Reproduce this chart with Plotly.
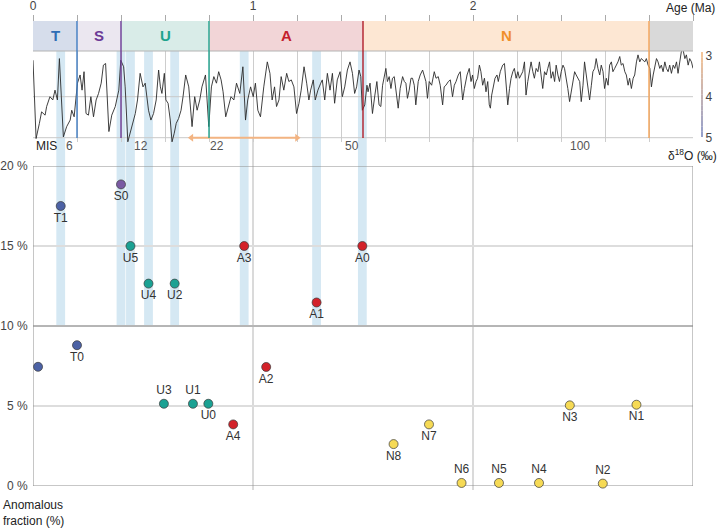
import plotly.graph_objects as go

# ---------------- δ18O stack ----------------
d18o_age = [0.000, 0.014, 0.029, 0.039, 0.055, 0.062, 0.077, 0.090, 0.100, 0.111, 0.120, 0.138, 0.153, 0.169, 0.176, 0.187,
            0.202, 0.214, 0.223, 0.232, 0.241, 0.252, 0.263, 0.275, 0.287, 0.298, 0.310, 0.320, 0.330, 0.336, 0.345, 0.358,
            0.374, 0.390, 0.399, 0.412, 0.419, 0.431, 0.450, 0.465, 0.475, 0.487, 0.500, 0.510, 0.525, 0.536, 0.548, 0.560,
            0.571, 0.579, 0.586, 0.597, 0.604, 0.614, 0.624, 0.632, 0.642, 0.651, 0.662, 0.673, 0.682, 0.694, 0.708, 0.723,
            0.735, 0.746, 0.758, 0.768, 0.784, 0.799, 0.811, 0.822, 0.834, 0.844, 0.855, 0.864, 0.876, 0.890, 0.900, 0.913,
            0.925, 0.940, 0.954, 0.966, 0.976, 0.989, 1.001, 1.011, 1.022, 1.034, 1.049, 1.065, 1.077, 1.087, 1.098, 1.107,
            1.118, 1.128, 1.140, 1.153, 1.163, 1.174, 1.186, 1.198, 1.209, 1.219, 1.232, 1.244, 1.254, 1.262, 1.274, 1.283,
            1.295, 1.308, 1.315, 1.326, 1.338, 1.350, 1.361, 1.371, 1.383, 1.396, 1.406, 1.417, 1.429, 1.441, 1.452, 1.462,
            1.471, 1.482, 1.490, 1.497, 1.508, 1.518, 1.523, 1.532, 1.543, 1.554, 1.563, 1.573, 1.581, 1.589, 1.596, 1.604,
            1.611, 1.619, 1.627, 1.634, 1.642, 1.654, 1.660, 1.669, 1.680, 1.688, 1.695, 1.702, 1.710, 1.718, 1.725, 1.733,
            1.740, 1.751, 1.760, 1.771, 1.778, 1.786, 1.793, 1.801, 1.812, 1.824, 1.832, 1.842, 1.851, 1.862, 1.869, 1.877,
            1.888, 1.897, 1.907, 1.915, 1.923, 1.933, 1.942, 1.953, 1.961, 1.973, 1.983, 1.991, 1.998, 2.006, 2.014, 2.021,
            2.029, 2.036, 2.044, 2.052, 2.059, 2.067, 2.074, 2.079, 2.085, 2.094, 2.100, 2.109, 2.115, 2.124, 2.135, 2.143,
            2.151, 2.158, 2.166, 2.173, 2.181, 2.188, 2.196, 2.204, 2.211, 2.219, 2.226, 2.234, 2.241, 2.249, 2.257, 2.264,
            2.272, 2.279, 2.287, 2.295, 2.302, 2.310, 2.317, 2.325, 2.333, 2.340, 2.348, 2.355, 2.363, 2.371, 2.378, 2.386,
            2.393, 2.401, 2.409, 2.416, 2.424, 2.431, 2.439, 2.447, 2.454, 2.462, 2.469, 2.477, 2.485, 2.492, 2.500, 2.507,
            2.515, 2.522, 2.530, 2.538, 2.545, 2.553, 2.560, 2.568, 2.576, 2.583, 2.591, 2.598, 2.606, 2.614, 2.621, 2.629,
            2.636, 2.644, 2.652, 2.659, 2.667, 2.674, 2.682, 2.690, 2.697, 2.705, 2.712, 2.720, 2.728, 2.735, 2.743, 2.750,
            2.758, 2.765, 2.773, 2.781, 2.788, 2.796, 2.804, 2.811, 2.819, 2.826, 2.834, 2.841, 2.849, 2.856, 2.864, 2.872,
            2.879, 2.887, 2.894, 2.902, 2.910, 2.917, 2.925, 2.932, 2.940, 2.947, 2.955, 2.963, 2.970, 2.978, 2.985, 2.993,
            3.000]
d18o_val = [3.11, 5.02, 4.65, 4.37, 4.45, 4.24, 4.00, 4.08, 3.84, 4.08, 3.07, 4.98, 4.73, 4.57, 4.33, 4.49,
            3.67, 3.47, 3.84, 3.39, 4.41, 4.45, 4.00, 4.49, 4.08, 3.92, 3.67, 3.23, 3.19, 3.84, 4.85, 4.45,
            4.24, 3.84, 3.11, 3.27, 3.76, 5.10, 4.73, 4.41, 4.08, 3.43, 3.76, 3.67, 4.33, 4.57, 4.41, 4.08,
            3.35, 3.76, 3.92, 3.43, 4.08, 4.16, 4.57, 5.10, 4.89, 4.65, 4.53, 4.33, 4.00, 3.47, 3.76, 4.73,
            4.00, 4.33, 4.08, 3.76, 3.47, 4.73, 3.76, 3.51, 3.67, 3.39, 3.59, 3.88, 4.49, 4.24, 4.00, 4.08,
            3.67, 3.92, 3.27, 4.57, 4.08, 3.76, 4.00, 3.67, 4.33, 4.49, 3.76, 3.15, 3.43, 4.08, 3.76, 4.24,
            4.08, 3.51, 3.84, 3.43, 3.63, 3.59, 3.76, 4.41, 4.16, 3.84, 3.27, 3.67, 4.08, 3.84, 3.59, 4.08,
            3.84, 3.67, 3.59, 4.08, 3.43, 3.84, 3.43, 4.16, 3.59, 3.39, 4.00, 3.76, 3.35, 3.15, 3.43, 3.92,
            3.76, 3.35, 3.51, 4.33, 4.20, 3.72, 3.88, 3.67, 4.41, 3.96, 3.63, 4.20, 4.24, 3.72, 3.55, 3.31,
            3.63, 3.51, 3.80, 3.55, 3.51, 4.04, 4.28, 3.80, 3.51, 3.63, 3.67, 4.04, 3.84, 3.55, 3.55, 3.72,
            4.20, 3.63, 3.47, 3.35, 3.51, 3.63, 4.04, 3.63, 3.72, 3.39, 3.55, 3.51, 3.72, 4.20, 3.76, 3.72,
            3.63, 3.59, 4.00, 3.72, 3.63, 3.47, 3.39, 4.08, 3.80, 3.47, 3.31, 3.63, 3.47, 3.80, 3.63, 3.55,
            3.23, 3.39, 3.72, 3.55, 3.88, 3.63, 4.20, 4.28, 3.96, 3.72, 3.55, 3.47, 3.63, 3.39, 3.23, 3.19,
            3.72, 4.20, 3.80, 3.55, 3.39, 3.31, 3.55, 3.39, 3.55, 3.47, 3.39, 3.15, 3.96, 3.63, 3.39, 3.15,
            3.39, 3.55, 3.31, 3.39, 3.15, 3.55, 3.80, 3.39, 3.47, 3.31, 3.15, 3.55, 3.39, 3.63, 3.23, 3.47,
            3.63, 3.39, 3.23, 3.31, 3.55, 3.80, 4.12, 3.88, 3.63, 3.39, 3.47, 3.55, 3.63, 4.12, 3.72, 3.15,
            3.47, 3.88, 4.08, 3.72, 3.39, 3.31, 3.07, 3.31, 3.47, 3.23, 3.39, 3.80, 3.55, 3.72, 3.23, 3.15,
            3.39, 3.31, 3.23, 3.15, 3.02, 3.23, 3.19, 3.39, 3.47, 3.72, 3.55, 3.80, 3.55, 3.47, 3.15, 2.98,
            3.15, 3.07, 3.11, 3.15, 3.07, 3.23, 3.31, 3.76, 3.47, 3.23, 3.07, 3.15, 3.31, 3.23, 3.39, 3.15,
            3.31, 3.39, 3.23, 3.43, 3.23, 3.31, 3.15, 3.43, 3.07, 2.90, 2.86, 3.07, 2.98, 3.23, 3.07, 3.15,
            3.31]

# ---------------- anomalous fraction per interval ----------------
T_age = [0.023, 0.126, 0.200]
T_frac = [7.45, 17.5, 8.8]
T_lab = ["", "T1", "T0"]
S_age = [0.400]
S_frac = [18.85]
S_lab = ["S0"]
U_age = [0.443, 0.525, 0.595, 0.644, 0.727, 0.797]
U_frac = [15.0, 12.65, 5.14, 12.65, 5.14, 5.14]
U_lab = ["U5", "U4", "U3", "U2", "U1", "U0"]
A_age = [0.910, 0.960, 1.060, 1.289, 1.497]
A_frac = [3.85, 15.0, 7.44, 11.47, 15.0]
A_lab = ["A4", "A3", "A2", "A1", "A0"]
N_age = [1.639, 1.800, 1.948, 2.118, 2.300, 2.440, 2.590, 2.743]
N_frac = [2.62, 3.85, 0.19, 0.19, 0.19, 5.04, 0.15, 5.08]
N_lab = ["N8", "N7", "N6", "N5", "N4", "N3", "N2", "N1"]
labels_above = {"U3", "U1", "N6", "N5", "N4", "N2"}
band_threshold = 10.0

frac_ticks = [0, 5, 10, 15, 20]
frac_ticktext = ["0 %", "5 %", "10 %", "15 %", "20 %"]
d18o_ticks = [3, 4, 5]

# periods
period_names = ["T", "S", "U", "A", "N", ""]
period_start = [0.0, 0.2, 0.4, 0.8, 1.5, 2.8]
period_end = [0.2, 0.4, 0.8, 1.5, 2.8, 3.0]

# MIS labels
mis_labels = ["6", "12", "22", "50", "100"]
mis_age = [0.164, 0.491, 0.836, 1.45, 2.486]
arrow_span = [0.72, 1.2]
arrow_level = 5.0

# ---------------- styling ----------------
FONT = "Liberation Sans, Arial, Helvetica, sans-serif"
TXT = "#333333"
period_fill = ["#d6ddeb", "#ebe7f0", "#d9ece8", "#f2d5d7", "#fde7d3", "#d9d9d9"]
period_text = ["#2f6db5", "#6b3a96", "#1fa38d", "#c4202c", "#f0902a", "#000000"]
period_line = ["#3f7cc2", "#6b3a96", "#1fa38d", "#b01e2a", "#f4a356"]
group_color = {"T": "#4c62a5", "S": "#7a5aa3", "U": "#1aa193", "A": "#d3222a", "N": "#f6da55"}
ARROW_COL = "#f3b482"

W, H = 720, 528
ML, MR, MT, MB = 33, 27, 21, 42
PW, PH = W - ML - MR, H - MT - MB


def py(p):
    return (H - MB - p) / PH


def pxp(p):
    return (p - ML) / PW


Y_TOP = 20.0
scat_dom = [0.0, py(166)]
d_dom = [py(142), py(51)]

fig = go.Figure()

fig.add_trace(go.Scatter(x=d18o_age, y=d18o_val, xaxis="x2", yaxis="y2", mode="lines",
                         line=dict(color="#2a2a2a", width=0.9), hoverinfo="skip", showlegend=False))

# orange double-headed arrow (MIS 22 - ~1.2 Ma)
fig.add_trace(go.Scatter(x=arrow_span, y=[arrow_level, arrow_level], xaxis="x2", yaxis="y2",
                         mode="lines+markers", line=dict(color=ARROW_COL, width=2),
                         marker=dict(symbol=["triangle-left", "triangle-right"], size=7, color=ARROW_COL,
                                     line=dict(width=0)),
                         cliponaxis=False, hoverinfo="skip", showlegend=False))

groups = [("T", T_age, T_frac, T_lab), ("S", S_age, S_frac, S_lab), ("U", U_age, U_frac, U_lab),
          ("A", A_age, A_frac, A_lab), ("N", N_age, N_frac, N_lab)]
for g, ages, fr, lab in groups:
    lab_x = [a for a, l in zip(ages, lab) if l]
    lab_y = [f for f, l in zip(fr, lab) if l]
    lab_t = [l for l in lab if l]
    nol_x = [a for a, l in zip(ages, lab) if not l]
    nol_y = [f for f, l in zip(fr, lab) if not l]
    mk = dict(size=9, color=group_color[g], line=dict(color="#3a3a3a", width=0.7))
    if nol_x:
        fig.add_trace(go.Scatter(x=nol_x, y=nol_y, mode="markers", marker=mk, cliponaxis=False,
                                 showlegend=False, name=g))
    fig.add_trace(go.Scatter(
        x=lab_x, y=lab_y, mode="markers+text", text=lab_t,
        textposition=["top center" if l in labels_above else "bottom center" for l in lab_t],
        textfont=dict(size=12, color=TXT, family=FONT),
        marker=mk, cliponaxis=False, showlegend=False, name=g))

shapes = []
# blue bands for intervals with fraction >= threshold
band_top = d_dom[1]
band_bot = scat_dom[0] + (scat_dom[1] - scat_dom[0]) * band_threshold / Y_TOP
for g, ages, fr, lab in groups:
    for a, f in zip(ages, fr):
        if f >= band_threshold:
            shapes.append(dict(type="rect", xref="x2", yref="paper", x0=a - 0.02, x1=a + 0.02,
                               y0=band_bot, y1=band_top, fillcolor="#d5e8f3", line=dict(width=0),
                               layer="below"))
# header period boxes
for s, e, c in zip(period_start, period_end, period_fill):
    shapes.append(dict(type="rect", xref="x2", yref="paper", x0=s, x1=e, y0=py(51), y1=1.0,
                       fillcolor=c, line=dict(width=0), layer="below"))
shapes.append(dict(type="line", xref="x2", yref="paper", x0=0, x1=3.0, y0=py(51), y1=py(51),
                   line=dict(color="#b3b3b3", width=1)))
# δ18O gridlines
for v in [4, 5]:
    shapes.append(dict(type="line", xref="x2", yref="y2", x0=0, x1=3.0, y0=v, y1=v,
                       line=dict(color="#c9c9c9", width=1), layer="between"))
# period boundary lines
for e, c in zip(period_end[:-1], period_line):
    shapes.append(dict(type="line", xref="x2", yref="paper", x0=e, x1=e, y0=py(138), y1=1.0,
                       line=dict(color=c, width=1.4), layer="above"))
# vertical lines at whole Ma through scatter panel
for v in [1, 2]:
    shapes.append(dict(type="line", xref="x", yref="paper", x0=v, x1=v, y0=py(490), y1=py(138),
                       line=dict(color="#b5b5b5", width=1), layer="below"))
# scatter frame lines
for v in [0, 10, 20]:
    shapes.append(dict(type="line", xref="x", yref="y", x0=0, x1=3.0, y0=v, y1=v,
                       line=dict(color="#8e8e8e", width=1), layer="between"))
for v in [0, 3.0]:
    shapes.append(dict(type="line", xref="x", yref="y", x0=v, x1=v, y0=0, y1=Y_TOP,
                       line=dict(color="#8e8e8e", width=1), layer="between"))
# gradient δ18O scale bar
orange = (244, 168, 96)
blue = (90, 108, 178)
nseg = 16
top_p, bot_p = 52, 137
for i in range(nseg):
    t = (i + 0.5) / nseg
    col = "rgb(%d,%d,%d)" % tuple(int(orange[k] + (blue[k] - orange[k]) * t) for k in range(3))
    y0p = top_p + (bot_p - top_p) * i / nseg
    y1p = top_p + (bot_p - top_p) * (i + 1) / nseg
    shapes.append(dict(type="line", xref="paper", yref="paper", x0=pxp(702), x1=pxp(702),
                       y0=py(y0p), y1=py(y1p), line=dict(color=col, width=1.3)))


def note(x, y, text, xref="paper", yref="paper", xanchor="center", size=12, color="#222", **kw):
    return dict(x=x, y=y, xref=xref, yref=yref, text=text, xanchor=xanchor, yanchor="middle",
                showarrow=False, font=dict(size=size, color=color, family=FONT), **kw)


annotations = []
for n, s, e, c in zip(period_names, period_start, period_end, period_text):
    if n:
        annotations.append(note((s + e) / 2, py(36), "<b>%s</b>" % n, xref="x2", size=15, color=c))
annotations.append(note(0.005, py(146), "MIS", xref="x2", xanchor="left"))
for l, a in zip(mis_labels, mis_age):
    annotations.append(note(a, py(146), l, xref="x2", color="#555"))
annotations.append(note(pxp(717), py(8), "Age (Ma)", xanchor="right"))
annotations.append(note(pxp(719), py(155), "δ<sup>18</sup>O (‰)", xanchor="right"))
annotations.append(note(pxp(1), py(513), "Anomalous<br>fraction (%)", xanchor="left", align="left"))

top_ticks = [round(0.2 * i, 1) for i in range(16)]
top_text = [str(int(round(t))) if abs(t - round(t)) < 1e-9 and t < 3 else "" for t in top_ticks]

fig.update_layout(
    template="none",
    width=W, height=H, margin=dict(l=ML, r=MR, t=MT, b=MB, autoexpand=False),
    paper_bgcolor="white", plot_bgcolor="rgba(0,0,0,0)",
    font=dict(family=FONT, size=12, color=TXT),
    xaxis=dict(domain=[0, 1], range=[0, 3.0], anchor="y", showgrid=False, showticklabels=False,
               zeroline=False, showline=False, ticks="", automargin=False),
    yaxis=dict(domain=scat_dom, range=[0, Y_TOP], tickvals=frac_ticks, ticktext=frac_ticktext,
               showgrid=True, gridcolor="#dddddd", gridwidth=1.5, zeroline=False, showline=False,
               ticks="outside", ticklen=2, tickcolor="rgba(0,0,0,0)", tickfont=dict(size=12, color="#444"),
               automargin=False),
    xaxis2=dict(domain=[0, 1], range=[0, 3.0], anchor="free", position=1.0, side="top",
                tickvals=top_ticks, ticktext=top_text, ticks="outside", ticklen=6, tickcolor="#aaaaaa",
                showgrid=True, gridcolor="#cdcdcd", gridwidth=1, zeroline=False, showline=False,
                tickfont=dict(size=12, color="#444"), automargin=False),
    yaxis2=dict(domain=d_dom, range=[5.105, 2.885], anchor="x2", side="right", tickvals=d18o_ticks,
                ticks="outside", ticklen=9, tickcolor="rgba(0,0,0,0)", showgrid=False, zeroline=False,
                showline=False, tickfont=dict(size=12, color="#444"), automargin=False),
    shapes=shapes, annotations=annotations, showlegend=False,
)

fig.write_html("out.html", config={"displayModeBar": False},
               post_script="document.body.style.margin='0';document.body.style.padding='0';"
                           "document.body.style.overflow='hidden';")
